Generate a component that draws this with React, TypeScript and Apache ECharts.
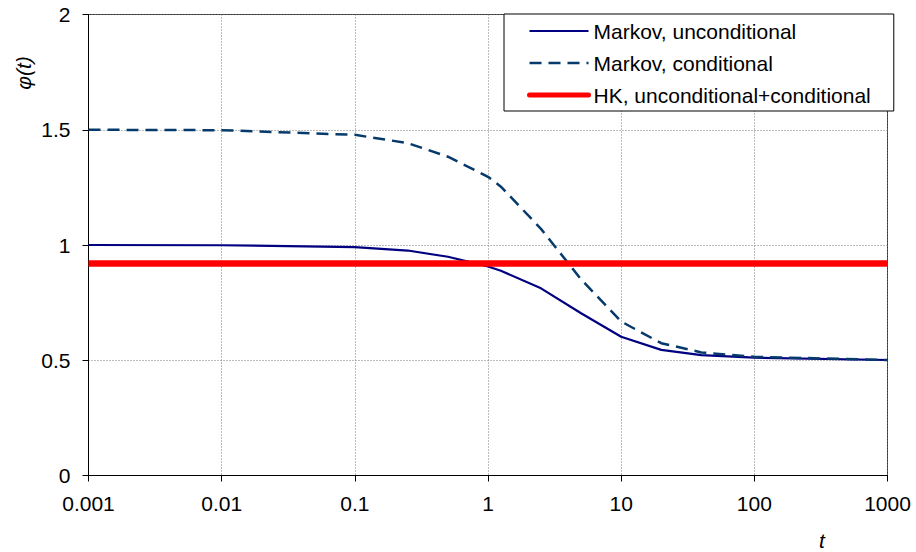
import React, { useEffect, useRef } from "react";
import * as echarts from "echarts";

const tValues = [0.001, 0.01, 0.1, 0.25, 0.5, 1, 1.25, 2.5, 5, 10, 20, 40, 100, 1000];
const markovUncond = [1.0, 0.999, 0.991, 0.976, 0.949, 0.907, 0.888, 0.812, 0.704, 0.602, 0.545, 0.522, 0.511, 0.501];
const markovCond = [1.5, 1.498, 1.478, 1.442, 1.383, 1.296, 1.253, 1.07, 0.851, 0.668, 0.574, 0.534, 0.515, 0.501];
const hkT = [0.001, 1000];
const hkValues = [0.92, 0.92];
const xTickLabels = ["0.001", "0.01", "0.1", "1", "10", "100", "1000"];
const yTickLabels = ["0", "0.5", "1", "1.5", "2"];
const seriesNames = ["Markov, unconditional", "Markov, conditional", "HK, unconditional+conditional"];

const FONT = "'Liberation Sans', Arial, sans-serif";

export default function App() {
  const ref = useRef<HTMLDivElement>(null);
  useEffect(() => {
    if (!ref.current) return;
    const chart = echarts.init(ref.current, null, { renderer: "svg" });
    const pair = (xs: number[], ys: number[]) => xs.map((x, i) => [x, ys[i]]);
    const fmtX = (v: number) => {
      for (const l of xTickLabels) {
        if (Math.abs(Math.log10(Number(l)) - Math.log10(v)) < 1e-6) return l;
      }
      return "";
    };
    const fmtY = (v: number) => {
      for (const l of yTickLabels) {
        if (Math.abs(Number(l) - v) < 1e-6) return l;
      }
      return "";
    };
    const hiddenSymbol = { color: "transparent", borderColor: "transparent", borderWidth: 0, opacity: 0 };
    chart.setOption({
      animation: false,
      backgroundColor: "#ffffff",
      grid: {
        left: 88.5,
        right: 28.5,
        top: 14.5,
        bottom: 76.5,
        show: true,
        borderColor: "#333333",
        borderWidth: 1,
        backgroundColor: "transparent",
      },
      xAxis: {
        type: "log",
        logBase: 10,
        min: 0.001,
        max: 1000,
        axisLine: { show: true, onZero: false, lineStyle: { color: "#000", width: 1 } },
        axisTick: { show: true, inside: false, length: 6, lineStyle: { color: "#000" } },
        minorTick: { show: false },
        axisLabel: {
          show: true,
          margin: 17,
          color: "#000",
          fontSize: 21,
          fontFamily: FONT,
          formatter: fmtX,
        },
        splitLine: { show: true, lineStyle: { color: "#7a7a7a", width: 1, type: [1, 2] } },
      },
      yAxis: {
        type: "value",
        min: 0,
        max: 2,
        interval: 0.5,
        axisLine: { show: true, lineStyle: { color: "#000", width: 1 } },
        axisTick: { show: true, inside: false, length: 6, lineStyle: { color: "#000" } },
        axisLabel: {
          show: true,
          margin: 18,
          color: "#000",
          fontSize: 21,
          fontFamily: FONT,
          formatter: fmtY,
        },
        splitLine: { show: true, lineStyle: { color: "#7a7a7a", width: 1, type: [1, 2] } },
      },
      legend: {
        orient: "vertical",
        left: 504,
        top: 14,
        padding: [6.5, 23, 5.5, 23],
        itemGap: 11,
        itemWidth: 59,
        itemHeight: 14,
        backgroundColor: "#ffffff",
        borderColor: "#000000",
        borderWidth: 1,
        borderRadius: 0,
        textStyle: { color: "#000", fontSize: 21, fontFamily: FONT },
        itemStyle: hiddenSymbol,
        data: [
          { name: seriesNames[0], lineStyle: { width: 2 }, itemStyle: hiddenSymbol },
          { name: seriesNames[1], lineStyle: { width: 2.5 }, itemStyle: hiddenSymbol },
          { name: seriesNames[2], lineStyle: { width: 5, cap: "round" }, itemStyle: hiddenSymbol },
        ],
      },
      graphic: [
        {
          type: "text",
          x: 23,
          y: 73,
          rotation: Math.PI / 2,
          style: {
            text: "φ(t)",
            fontSize: 21,
            fontStyle: "italic",
            fontFamily: FONT,
            fill: "#000",
            align: "center",
            verticalAlign: "middle",
          },
        },
        {
          type: "text",
          x: 822,
          y: 540,
          style: {
            text: "t",
            fontSize: 21,
            fontStyle: "italic",
            fontFamily: FONT,
            fill: "#000",
            align: "center",
            verticalAlign: "middle",
          },
        },
      ],
      series: [
        {
          name: seriesNames[0],
          type: "line",
          data: pair(tValues, markovUncond),
          symbol: "none",
          lineStyle: { color: "#000080", width: 2.2 },
          itemStyle: { color: "#000080" },
          z: 3,
        },
        {
          name: seriesNames[1],
          type: "line",
          data: pair(tValues, markovCond),
          symbol: "none",
          lineStyle: { color: "#063a6b", width: 2.5, type: [12, 7] },
          itemStyle: { color: "#063a6b" },
          z: 3,
        },
        {
          name: seriesNames[2],
          type: "line",
          data: pair(hkT, hkValues),
          symbol: "none",
          lineStyle: { color: "#ff0000", width: 6.5 },
          itemStyle: { color: "#ff0000" },
          z: 4,
        },
      ],
    });
    return () => chart.dispose();
  }, []);
  return (
    <div
      ref={ref}
      style={{ position: "fixed", left: 0, top: 0, width: 916, height: 552 }}
    />
  );
}
